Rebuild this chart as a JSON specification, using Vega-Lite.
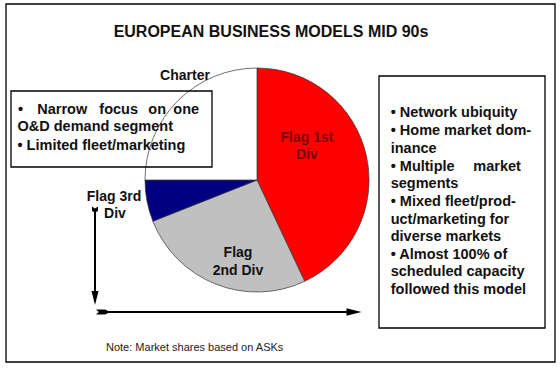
{
  "$schema": "https://vega.github.io/schema/vega-lite/v6.json",
  "width": 560,
  "height": 368,
  "padding": 0,
  "autosize": {"type": "none"},
  "background": "white",
  "config": {"view": {"stroke": null}, "font": "Liberation Sans"},
  "datasets": {
    "pie": [
      {"segment": "Flag 1st Div", "share": 43, "k": 1},
      {"segment": "Flag 2nd Div", "share": 26, "k": 2},
      {"segment": "Flag 3rd Div", "share": 6, "k": 3},
      {"segment": "Charter", "share": 25, "k": 4}
    ],
    "boxes": [
      {"x": 6, "x2": 555, "y": 4, "y2": 362},
      {"x": 11, "x2": 212, "y": 91, "y2": 167},
      {"x": 379, "x2": 545, "y": 76, "y2": 328}
    ],
    "body": [
      {"t": "•", "x": 18, "y": 110},
      {"t": "Narrow", "x": 37.3, "y": 110},
      {"t": "focus", "x": 99.3, "y": 110},
      {"t": "on", "x": 148.3, "y": 110},
      {"t": "one", "x": 173.3, "y": 110},
      {"t": "O&D demand segment", "x": 17.5, "y": 127},
      {"t": "• Limited fleet/marketing", "x": 17.5, "y": 145.5},
      {"t": "• Network ubiquity", "x": 390.7, "y": 113},
      {"t": "• Home market dom-", "x": 390.7, "y": 131},
      {"t": "inance", "x": 390.7, "y": 148.5},
      {"t": "• Multiple", "x": 390.7, "y": 166.5},
      {"t": "market", "x": 473.3, "y": 166.5},
      {"t": "segments", "x": 390.7, "y": 184.3},
      {"t": "• Mixed fleet/prod-", "x": 390.7, "y": 202},
      {"t": "uct/marketing for", "x": 390.7, "y": 219.5},
      {"t": "diverse markets", "x": 390.7, "y": 237},
      {"t": "• Almost 100% of", "x": 390.7, "y": 254.5},
      {"t": "scheduled capacity", "x": 390.7, "y": 272.3},
      {"t": "followed this model", "x": 390.7, "y": 290}
    ],
    "labels": [
      {"t": "Charter", "x": 185, "y": 76},
      {"t": "Flag 3rd", "x": 114, "y": 197},
      {"t": "Div", "x": 115, "y": 214},
      {"t": "Flag", "x": 238, "y": 253},
      {"t": "2nd Div", "x": 238, "y": 271}
    ],
    "redlabels": [
      {"t": "Flag 1st", "x": 307, "y": 138},
      {"t": "Div", "x": 307, "y": 155}
    ],
    "title": [{"t": "EUROPEAN BUSINESS MODELS MID 90s", "x": 271, "y": 32}],
    "note": [{"t": "Note: Market shares based on ASKs", "x": 106, "y": 348}],
    "shafts": [
      {"x": 95, "y": 211, "x2": 95, "y2": 298},
      {"x": 100, "y": 312, "x2": 352, "y2": 312}
    ],
    "vhead": [{"x": 95, "y": 298}],
    "hhead": [{"x": 354, "y": 312}],
    "vtail": [{"x": 95, "y": 209.5}],
    "htail": [{"x": 103, "y": 312}]
  },
  "layer": [
    {
      "data": {"name": "pie"},
      "mark": {"type": "arc", "outerRadius": 112, "stroke": "#333333", "strokeWidth": 0.7},
      "encoding": {
        "theta": {"field": "share", "type": "quantitative", "stack": true},
        "order": {"field": "k", "type": "quantitative"},
        "color": {"field": "segment", "type": "nominal", "legend": null,
          "scale": {"domain": ["Flag 1st Div", "Flag 2nd Div", "Flag 3rd Div", "Charter"],
                    "range": ["#FF0000", "#C0C0C0", "#000080", "#FFFFFF"]}},
        "x": {"datum": 257, "type": "quantitative", "scale": {"domain": [0, 560], "nice": false, "zero": false}, "axis": null},
        "y": {"datum": 180, "type": "quantitative", "scale": {"domain": [0, 368], "nice": false, "zero": false, "reverse": true}, "axis": null}
      }
    },
    {
      "data": {"name": "boxes"},
      "mark": {"type": "rect", "fill": null, "stroke": "#000000", "strokeWidth": 1.3},
      "encoding": {
        "x": {"field": "x", "type": "quantitative", "axis": null},
        "x2": {"field": "x2"},
        "y": {"field": "y", "type": "quantitative", "axis": null},
        "y2": {"field": "y2"}
      }
    },
    {
      "data": {"name": "body"},
      "mark": {"type": "text", "align": "left", "baseline": "middle", "fontSize": 14.5, "fontWeight": "bold", "color": "#111111"},
      "encoding": {
        "x": {"field": "x", "type": "quantitative", "axis": null},
        "y": {"field": "y", "type": "quantitative", "axis": null},
        "text": {"field": "t"}
      }
    },
    {
      "data": {"name": "labels"},
      "mark": {"type": "text", "align": "center", "baseline": "middle", "fontSize": 14, "fontWeight": "bold", "color": "#111111"},
      "encoding": {
        "x": {"field": "x", "type": "quantitative", "axis": null},
        "y": {"field": "y", "type": "quantitative", "axis": null},
        "text": {"field": "t"}
      }
    },
    {
      "data": {"name": "redlabels"},
      "mark": {"type": "text", "align": "center", "baseline": "middle", "fontSize": 14, "fontWeight": "bold", "color": "#7A0000"},
      "encoding": {
        "x": {"field": "x", "type": "quantitative", "axis": null},
        "y": {"field": "y", "type": "quantitative", "axis": null},
        "text": {"field": "t"}
      }
    },
    {
      "data": {"name": "title"},
      "mark": {"type": "text", "align": "center", "baseline": "middle", "fontSize": 16, "fontWeight": "bold", "color": "#111111"},
      "encoding": {
        "x": {"field": "x", "type": "quantitative", "axis": null},
        "y": {"field": "y", "type": "quantitative", "axis": null},
        "text": {"field": "t"}
      }
    },
    {
      "data": {"name": "note"},
      "mark": {"type": "text", "align": "left", "baseline": "middle", "fontSize": 11, "color": "#222222"},
      "encoding": {
        "x": {"field": "x", "type": "quantitative", "axis": null},
        "y": {"field": "y", "type": "quantitative", "axis": null},
        "text": {"field": "t"}
      }
    },
    {
      "data": {"name": "shafts"},
      "mark": {"type": "rule", "color": "#000000", "strokeWidth": 2},
      "encoding": {
        "x": {"field": "x", "type": "quantitative", "axis": null},
        "x2": {"field": "x2"},
        "y": {"field": "y", "type": "quantitative", "axis": null},
        "y2": {"field": "y2"}
      }
    },
    {
      "data": {"name": "vhead"},
      "mark": {"type": "point", "shape": "M-0.5,-1L0,1L0.5,-1Z", "size": 196, "filled": true, "color": "#000000", "opacity": 1},
      "encoding": {
        "x": {"field": "x", "type": "quantitative", "axis": null},
        "y": {"field": "y", "type": "quantitative", "axis": null}
      }
    },
    {
      "data": {"name": "hhead"},
      "mark": {"type": "point", "shape": "M-1,-0.5L1,0L-1,0.5Z", "size": 225, "filled": true, "color": "#000000", "opacity": 1},
      "encoding": {
        "x": {"field": "x", "type": "quantitative", "axis": null},
        "y": {"field": "y", "type": "quantitative", "axis": null}
      }
    },
    {
      "data": {"name": "vtail"},
      "mark": {"type": "point", "shape": "M-1,-1L0,-0.3L1,-1L1,0.5L0,1L-1,0.5Z", "size": 36, "filled": true, "color": "#000000", "opacity": 1},
      "encoding": {
        "x": {"field": "x", "type": "quantitative", "axis": null},
        "y": {"field": "y", "type": "quantitative", "axis": null}
      }
    },
    {
      "data": {"name": "htail"},
      "mark": {"type": "point", "shape": "M-1,-0.35L0.3,-0.35L1,0L0.3,0.35L-1,0.35L-0.6,0Z", "size": 196, "filled": true, "color": "#000000", "opacity": 1},
      "encoding": {
        "x": {"field": "x", "type": "quantitative", "axis": null},
        "y": {"field": "y", "type": "quantitative", "axis": null}
      }
    }
  ]
}
